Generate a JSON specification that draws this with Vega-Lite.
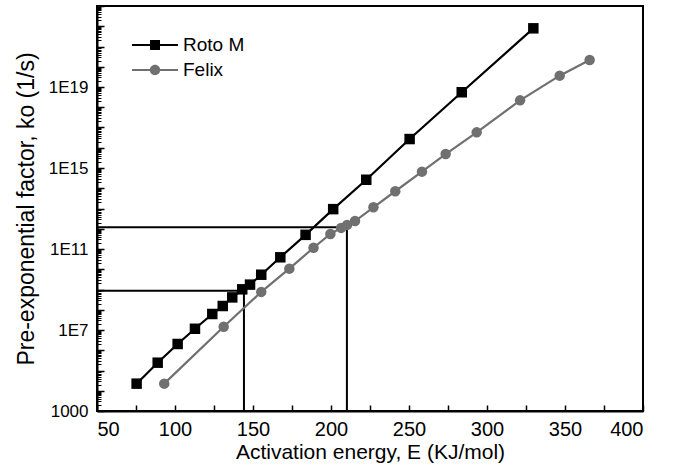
{
  "$schema": "https://vega.github.io/schema/vega-lite/v6.json",
  "width": 546,
  "height": 405,
  "autosize": {"type": "none"},
  "padding": {"left": 97, "top": 6, "right": 31, "bottom": 57},
  "config": {
    "view": {"stroke": "#000000", "strokeWidth": 2},
    "font": "Liberation Sans"
  },
  "data": {
    "values": [
      {"series": "Roto M", "E": 75.4, "k": 2.24e4},
      {"series": "Roto M", "E": 88.9, "k": 2.43e5},
      {"series": "Roto M", "E": 101.7, "k": 2.04e6},
      {"series": "Roto M", "E": 112.8, "k": 1.15e7},
      {"series": "Roto M", "E": 123.9, "k": 6.17e7},
      {"series": "Roto M", "E": 130.6, "k": 1.53e8},
      {"series": "Roto M", "E": 136.7, "k": 4.07e8},
      {"series": "Roto M", "E": 143.1, "k": 1.02e9},
      {"series": "Roto M", "E": 148.1, "k": 1.74e9},
      {"series": "Roto M", "E": 155.3, "k": 5.37e9},
      {"series": "Roto M", "E": 167.5, "k": 3.89e10},
      {"series": "Roto M", "E": 183.7, "k": 5.0e11},
      {"series": "Roto M", "E": 201.4, "k": 9.3e12},
      {"series": "Roto M", "E": 222.6, "k": 2.63e14},
      {"series": "Roto M", "E": 250.4, "k": 2.69e16},
      {"series": "Roto M", "E": 283.8, "k": 5.5e18},
      {"series": "Roto M", "E": 329.7, "k": 7.9e21},
      {"series": "Felix", "E": 93.1, "k": 2.24e4},
      {"series": "Felix", "E": 131.2, "k": 1.45e7},
      {"series": "Felix", "E": 155.3, "k": 7.6e8},
      {"series": "Felix", "E": 173.3, "k": 1.07e10},
      {"series": "Felix", "E": 188.8, "k": 1.15e11},
      {"series": "Felix", "E": 199.6, "k": 5.5e11},
      {"series": "Felix", "E": 206.5, "k": 1.1e12},
      {"series": "Felix", "E": 210.3, "k": 1.55e12},
      {"series": "Felix", "E": 215.4, "k": 2.4e12},
      {"series": "Felix", "E": 227.2, "k": 1.15e13},
      {"series": "Felix", "E": 241.2, "k": 7.1e13},
      {"series": "Felix", "E": 258.3, "k": 6.6e14},
      {"series": "Felix", "E": 273.5, "k": 4.9e15},
      {"series": "Felix", "E": 293.4, "k": 5.75e16},
      {"series": "Felix", "E": 321.2, "k": 2.19e18},
      {"series": "Felix", "E": 346.6, "k": 3.63e19},
      {"series": "Felix", "E": 365.8, "k": 2.14e20}
    ]
  },
  "layer": [
    {
      "data": {
        "values": [
          {"E": 50, "E2": 210.2, "k": 1.18e12, "k2": 1.18e12},
          {"E": 210.2, "E2": 210.2, "k": 1000, "k2": 1.18e12},
          {"E": 50, "E2": 144.2, "k": 8.7e8, "k2": 8.7e8},
          {"E": 144.2, "E2": 144.2, "k": 1000, "k2": 8.7e8}
        ]
      },
      "mark": {"type": "rule", "color": "#000000", "strokeWidth": 2},
      "encoding": {
        "x": {
          "field": "E", "type": "quantitative",
          "scale": {"domain": [50, 400], "nice": false, "zero": false},
          "axis": {
            "orient": "bottom",
            "title": "Activation energy, E (KJ/mol)",
            "values": [50, 100, 150, 200, 250, 300, 350, 400],
            "grid": false,
            "ticks": false,
            "domainColor": "#000000", "domainWidth": 2,
            "labelOverlap": false,
            "labelPadding": 8,
            "labelFont": "Liberation Sans", "labelColor": "#000000",
            "labelFontSize": 20,
            "titleFont": "Liberation Sans", "titleColor": "#000000", "titleFontWeight": "normal",
            "titleFontSize": 21,
            "titlePadding": 2
          }
        },
        "x2": {"field": "E2"},
        "y": {
          "field": "k", "type": "quantitative",
          "scale": {"type": "log", "domain": [1000, 1e23], "nice": false},
          "axis": {
            "orient": "left",
            "title": "Pre-exponential factor, ko (1/s)",
            "values": [1000, 1e7, 1e11, 1e15, 1e19],
            "labelExpr": "datum.value == 1000 ? '1000' : '1E' + round(log(datum.value) / LN10)",
            "grid": false,
            "ticks": false,
            "domainColor": "#000000", "domainWidth": 2,
            "labelOverlap": false,
            "labelPadding": 9,
            "labelFont": "Liberation Sans", "labelColor": "#000000",
            "labelFontSize": 17,
            "titleFont": "Liberation Sans", "titleColor": "#000000", "titleFontWeight": "normal",
            "titleFontSize": 23,
            "titlePadding": 10
          }
        },
        "y2": {"field": "k2"}
      }
    },
    {
      "mark": {"type": "line", "strokeWidth": 2.2},
      "encoding": {
        "x": {
          "field": "E", "type": "quantitative",
          "axis": {
            "orient": "bottom", "title": null, "labels": false, "domain": false, "grid": false, "ticks": true,
            "tickColor": "#000000", "tickWidth": 1.5,
            "values": [50, 75, 100, 125, 150, 175, 200, 225, 250, 275, 300, 325, 350, 375, 400],
            "tickSize": 6, "offset": -6
          }
        },
        "y": {
          "field": "k", "type": "quantitative",
          "axis": {
            "orient": "left", "title": null, "labels": false, "domain": false, "grid": false, "ticks": true,
            "tickColor": "#000000", "tickWidth": 1.5,
            "values": [1e3,1e4,1e5,1e6,1e7,1e8,1e9,1e10,1e11,1e12,1e13,1e14,1e15,1e16,1e17,1e18,1e19,1e20,1e21,1e22,1e23],
            "tickSize": 7, "offset": -7
          }
        },
        "color": {"field": "series", "type": "nominal", "scale": {"domain": ["Roto M", "Felix"], "range": ["#000000", "#707070"]}, "legend": null},
        "detail": {"field": "series"}
      }
    },
    {
      "mark": {"type": "point", "filled": true, "opacity": 1, "size": 110},
      "encoding": {
        "x": {"field": "E", "type": "quantitative", "axis": null},
        "y": {
          "field": "k", "type": "quantitative",
          "axis": {
            "orient": "left", "title": null, "labels": false, "domain": false, "grid": false, "ticks": true,
            "tickColor": "#000000", "tickWidth": 1,
            "values": [2e3,3e3,4e3,5e3,6e3,7e3,8e3,9e3,2e4,3e4,4e4,5e4,6e4,7e4,8e4,9e4,2e5,3e5,4e5,5e5,6e5,7e5,8e5,9e5,2e6,3e6,4e6,5e6,6e6,7e6,8e6,9e6,2e7,3e7,4e7,5e7,6e7,7e7,8e7,9e7,2e8,3e8,4e8,5e8,6e8,7e8,8e8,9e8,2e9,3e9,4e9,5e9,6e9,7e9,8e9,9e9,2e10,3e10,4e10,5e10,6e10,7e10,8e10,9e10,2e11,3e11,4e11,5e11,6e11,7e11,8e11,9e11,2e12,3e12,4e12,5e12,6e12,7e12,8e12,9e12,2e13,3e13,4e13,5e13,6e13,7e13,8e13,9e13,2e14,3e14,4e14,5e14,6e14,7e14,8e14,9e14,2e15,3e15,4e15,5e15,6e15,7e15,8e15,9e15,2e16,3e16,4e16,5e16,6e16,7e16,8e16,9e16,2e17,3e17,4e17,5e17,6e17,7e17,8e17,9e17,2e18,3e18,4e18,5e18,6e18,7e18,8e18,9e18,2e19,3e19,4e19,5e19,6e19,7e19,8e19,9e19,2e20,3e20,4e20,5e20,6e20,7e20,8e20,9e20,2e21,3e21,4e21,5e21,6e21,7e21,8e21,9e21,2e22,3e22,4e22,5e22,6e22,7e22,8e22,9e22],
            "tickSize": 4, "offset": -4
          }
        },
        "color": {"field": "series", "type": "nominal", "scale": {"domain": ["Roto M", "Felix"], "range": ["#000000", "#707070"]}, "legend": null},
        "shape": {"field": "series", "type": "nominal", "scale": {"domain": ["Roto M", "Felix"], "range": ["square", "circle"]}, "legend": null}
      }
    },
    {
      "transform": [{"filter": "false"}],
      "mark": {"type": "point", "filled": true, "opacity": 1, "size": 400},
      "encoding": {
        "x": {"field": "E", "type": "quantitative", "axis": null},
        "y": {"field": "k", "type": "quantitative", "axis": null},
        "color": {
          "field": "series", "type": "nominal",
          "scale": {"domain": ["Roto M", "Felix"], "range": ["#000000", "#707070"]},
          "legend": {
            "orient": "none", "legendX": 48, "legendY": 29, "title": null,
            "padding": 0, "rowPadding": 5, "symbolSize": 400, "symbolStrokeWidth": 0,
            "symbolOpacity": 1,
            "labelFontSize": 19, "labelFont": "Liberation Sans", "labelColor": "#000000", "labelOffset": 18
          }
        },
        "shape": {
          "field": "series", "type": "nominal",
          "scale": {"domain": ["Roto M", "Felix"], "range": ["M-2.3,-0.1H2.3V0.1H-2.3Z M-0.5,-0.5H0.5V0.5H-0.5Z", "M-2.3,-0.1H2.3V0.1H-2.3Z M0.52,0 A0.52,0.52 0 1,1 -0.52,0 A0.52,0.52 0 1,1 0.52,0 Z"]},
          "legend": {
            "orient": "none", "legendX": 48, "legendY": 29, "title": null,
            "padding": 0, "rowPadding": 5, "symbolSize": 400, "symbolStrokeWidth": 0,
            "symbolOpacity": 1,
            "labelFontSize": 19, "labelFont": "Liberation Sans", "labelColor": "#000000", "labelOffset": 18
          }
        }
      }
    }
  ],
  "resolve": {
    "scale": {"color": "independent", "shape": "independent"},
    "axis": {"x": "independent", "y": "independent"}
  }
}
